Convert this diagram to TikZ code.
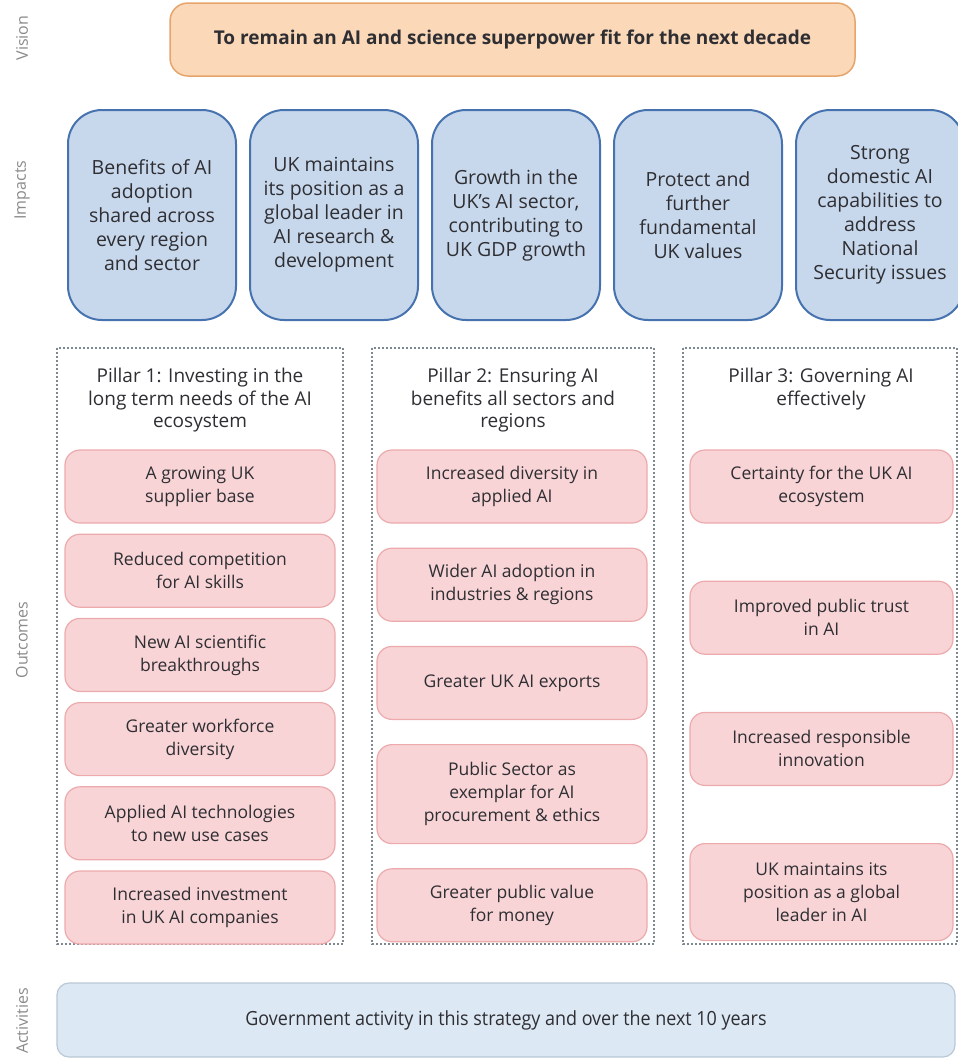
\documentclass[tikz,border=0pt]{standalone}
\usepackage{fontspec}
\setmainfont{Open Sans}
\newfontfamily\condfont[FakeStretch=0.92]{Open Sans}
\usetikzlibrary{positioning}

\definecolor{textgray}{HTML}{2E2E33}
\definecolor{labelgray}{HTML}{8A8A8A}
\definecolor{visionfill}{HTML}{FAD8B8}
\definecolor{visionline}{HTML}{E6A56C}
\definecolor{impactfill}{HTML}{C8D8EC}
\definecolor{impactline}{HTML}{4673AF}
\definecolor{outcomefill}{HTML}{F8D4D6}
\definecolor{outcomeline}{HTML}{ECAAAC}
\definecolor{pillarline}{HTML}{7D8890}
\definecolor{activityfill}{HTML}{DCE8F4}
\definecolor{activityline}{HTML}{BAC8D6}

\begin{document}
\begin{tikzpicture}[
    x=1pt, y=-1pt,
    font=\fontsize{19.5}{24}\selectfont,
    vision/.style={rectangle, rounded corners=18pt, draw=visionline, line width=1.5pt, fill=visionfill, minimum width=685pt, minimum height=73pt, text=textgray, font=\fontsize{19}{24}\selectfont\bfseries},
    impact/.style={rectangle, rounded corners=34pt, draw=impactline, line width=2pt, fill=impactfill, minimum width=168pt, minimum height=210pt, align=center, inner sep=0pt, text=textgray},
    outcome/.style={rectangle, rounded corners=15pt, draw=outcomeline, line width=1.2pt, fill=outcomefill, minimum height=73pt, align=center, inner sep=0pt, text=textgray, font=\fontsize{17.5}{23}\selectfont},
    pillar/.style={draw=pillarline, line width=1.3pt, dash pattern=on 2pt off 2pt},
    pillartitle/.style={anchor=north, align=center, inner sep=0pt, text=textgray, font=\fontsize{19}{22.5}\selectfont},
    activity/.style={rectangle, rounded corners=12pt, draw=activityline, line width=1.2pt, fill=activityfill, minimum width=898pt, minimum height=74pt, text=textgray},
    sidelabel/.style={rotate=90, text=labelgray, font=\fontsize{16}{18}\selectfont}
]
\useasboundingbox (0,0) rectangle (958,1061);

% Row labels (left margin)
\node[sidelabel] (lblvision) at (22,38) {Vision};
\node[sidelabel] (lblimpacts) at (22,190) {Impacts};
\node[sidelabel] (lbloutcomes) at (22,640) {Outcomes};
\node[sidelabel] (lblactivities) at (22,1021) {Activities};

% Vision
\node[vision] (vision) at (512.5,39.5) {To remain an AI and science superpower fit for the next decade};

% Impacts
\node[impact] (imp1) at (152,215) {Benefits of AI\\adoption\\shared across\\every region\\and sector};
\node[impact, right=12pt of imp1] (imp2) {UK maintains\\its position as a\\global leader in\\AI research \&\\development};
\node[impact, right=12pt of imp2] (imp3) {Growth in the\\UK's AI sector,\\contributing to\\UK GDP growth};
\node[impact, right=12pt of imp3] (imp4) {Protect and\\further\\fundamental\\UK values};
\node[impact, right=12pt of imp4] (imp5) {Strong\\domestic AI\\capabilities to\\address\\National\\Security issues};

% Pillar frames
\draw[pillar] (57,348) rectangle (343,944);
\draw[pillar] (372,348) rectangle (654,944);
\draw[pillar] (683,348) rectangle (957,944);

\node[pillartitle] (title1) at (200,368) {Pillar 1: Investing in the\\long term needs of the AI\\ecosystem};
\node[pillartitle] (title2) at (513,368) {Pillar 2: Ensuring AI\\benefits all sectors and\\regions};
\node[pillartitle] (title3) at (821,368) {Pillar 3: Governing AI\\effectively};

% Outcomes, pillar 1
\begin{scope}[every node/.append style={minimum width=270pt}]
\node[outcome] (o11) at (200,486.5) {A growing UK\\supplier base};
\node[outcome, below=10pt of o11] (o12) {Reduced competition\\for AI skills};
\node[outcome, below=10pt of o12] (o13) {New AI scientific\\breakthroughs};
\node[outcome, below=10pt of o13] (o14) {Greater workforce\\diversity};
\node[outcome, below=10pt of o14] (o15) {Applied AI technologies\\to new use cases};
\node[outcome, below=10pt of o15] (o16) {Increased investment\\in UK AI companies};

% Outcomes, pillar 2
\node[outcome] (o21) at (512,486.5) {Increased diversity in\\applied AI};
\node[outcome, below=24pt of o21] (o22) {Wider AI adoption in\\industries \& regions};
\node[outcome, below=24pt of o22] (o23) {Greater UK AI exports};
\node[outcome, below=24pt of o23, minimum height=99pt] (o24) {Public Sector as\\exemplar for AI\\procurement \& ethics};
\node[outcome, below=24pt of o24] (o25) {Greater public value\\for money};
\end{scope}

% Outcomes, pillar 3
\begin{scope}[every node/.append style={minimum width=263pt}]
\node[outcome] (o31) at (821.5,486.5) {Certainty for the UK AI\\ecosystem};
\node[outcome, below=57pt of o31] (o32) {Improved public trust\\in AI};
\node[outcome, below=57pt of o32] (o33) {Increased responsible\\innovation};
\node[outcome, below=57pt of o33, minimum height=97pt] (o34) {UK maintains its\\position as a global\\leader in AI};
\end{scope}

% Activities
\node[activity] (act) at (506,1020) {\condfont Government activity in this strategy and over the next 10 years};

\end{tikzpicture}
\end{document}
